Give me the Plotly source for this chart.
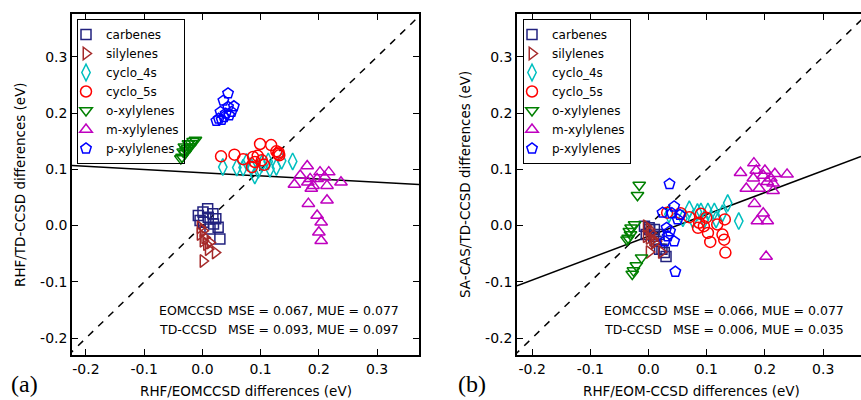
import plotly.graph_objects as go

# ---------------- data ----------------
series_names = ["carbenes", "silylenes", "cyclo_4s", "cyclo_5s", "o-xylylenes", "m-xylylenes", "p-xylylenes"]

carbenes_x = [-0.007, -0.004, 0.001, 0.002, 0.009, 0.010, 0.013, 0.018, 0.019, 0.023, 0.027, 0.030]
carbenes_td = [0.018, 0.009, 0.024, 0.006, 0.030, 0.015, -0.006, 0.021, 0.003, 0.012, -0.003, -0.024]
carbenes_cas = [-0.001, -0.016, -0.004, -0.007, -0.019, -0.007, -0.028, -0.016, -0.042, -0.042, -0.048, -0.055]

silylenes_x = [-0.004, 0.001, -0.004, 0.004, 0.001, 0.007, 0.010, 0.022, 0.001, 0.013]
silylenes_td = [-0.003, -0.009, -0.015, -0.021, -0.027, -0.033, -0.042, -0.048, -0.063, -0.030]
silylenes_cas = [-0.001, -0.007, -0.019, -0.013, -0.022, -0.025, -0.030, -0.047, -0.047, -0.028]

cyclo4_x = [0.035, 0.059, 0.070, 0.076, 0.084, 0.090, 0.096, 0.102, 0.113, 0.116, 0.127, 0.136, 0.155]
cyclo4_td = [0.104, 0.103, 0.103, 0.113, 0.104, 0.089, 0.099, 0.110, 0.114, 0.101, 0.104, 0.115, 0.114]
cyclo4_cas = [0.020, 0.013, 0.029, 0.011, 0.024, 0.025, 0.011, 0.025, 0.025, 0.011, 0.022, 0.040, 0.008]

cyclo5_x = [0.032, 0.055, 0.070, 0.085, 0.087, 0.090, 0.095, 0.099, 0.102, 0.106, 0.118, 0.127, 0.130, 0.131, 0.132]
cyclo5_td = [0.123, 0.126, 0.118, 0.104, 0.122, 0.113, 0.124, 0.145, 0.116, 0.108, 0.143, 0.132, 0.127, 0.130, 0.125]
cyclo5_cas = [0.023, 0.022, 0.015, -0.004, 0.005, 0.021, -0.001, 0.014, -0.013, -0.029, 0.002, -0.016, -0.025, 0.011, -0.048]

oxyl_x = [-0.012, -0.016, -0.019, -0.021, -0.024, -0.026, -0.028, -0.030, -0.031, -0.033, -0.035, -0.037]
oxyl_td = [0.152, 0.150, 0.146, 0.140, 0.146, 0.137, 0.134, 0.128, 0.140, 0.131, 0.122, 0.119]
oxyl_cas = [-0.057, 0.072, 0.054, -0.071, 0.002, -0.080, -0.086, -0.004, -0.016, -0.010, -0.022, -0.025]

mxyl_x = [0.158, 0.168, 0.180, 0.181, 0.182, 0.185, 0.187, 0.190, 0.197, 0.197, 0.200, 0.202, 0.204, 0.204, 0.210, 0.214, 0.214, 0.217, 0.238]
mxyl_td = [0.073, 0.089, 0.106, 0.077, 0.039, 0.083, 0.066, 0.071, 0.083, 0.018, -0.012, 0.095, 0.006, -0.027, 0.086, 0.071, 0.045, 0.095, 0.077]
mxyl_cas = [0.094, 0.066, 0.084, 0.111, 0.039, 0.098, 0.008, 0.066, 0.089, 0.022, 0.098, -0.055, 0.078, 0.008, 0.084, 0.075, 0.062, 0.092, 0.091]

pxyl_x = [0.024, 0.028, 0.031, 0.033, 0.036, 0.037, 0.040, 0.044, 0.044, 0.046, 0.050, 0.054]
pxyl_td = [0.186, 0.190, 0.202, 0.188, 0.222, 0.193, 0.199, 0.235, 0.211, 0.196, 0.202, 0.212]
pxyl_cas = [0.023, -0.028, -0.004, -0.019, 0.074, -0.010, 0.022, -0.028, 0.034, -0.082, 0.011, 0.019]

# linear fits (intercept, slope)
fit_td = [0.094, -0.057]
fit_cas = [-0.019, 0.389]

tick_vals = [-0.2, -0.1, 0.0, 0.1, 0.2, 0.3]
tick_text = ["-0.2", "-0.1", "0.0", "0.1", "0.2", "0.3"]

stats_a = ["EOMCCSD", "MSE = 0.067, MUE = 0.077", "TD-CCSD", "MSE = 0.093, MUE = 0.097"]
stats_b = ["EOMCCSD", "MSE = 0.066, MUE = 0.077", "TD-CCSD", "MSE = 0.006, MUE = 0.035"]

# ---------------- style ----------------
FONT = "DejaVu Sans"
W, H = 861, 400
xr_a = [-0.224, 0.372]
xr_b = [-0.226, 0.365]
yr = [-0.23, 0.376]
dom_xa = [72 / W, 419 / W]
dom_xb = [517 / W, 1.0]
dom_y = [1 - 355 / H, 1 - 14 / H]

styles = [
    ("square-open", "#22227f", 10),
    ("triangle-right-open", "#a52a2a", 11),
    ("diamond-tall-open", "#00bfbf", 12),
    ("circle-open", "#ff0000", 11),
    ("triangle-down-open", "#008000", 11),
    ("triangle-up-open", "#bf00bf", 11),
    ("pentagon-open", "#0000ff", 11),
]
xs = [carbenes_x, silylenes_x, cyclo4_x, cyclo5_x, oxyl_x, mxyl_x, pxyl_x]
ytd = [carbenes_td, silylenes_td, cyclo4_td, cyclo5_td, oxyl_td, mxyl_td, pxyl_td]
ycas = [carbenes_cas, silylenes_cas, cyclo4_cas, cyclo5_cas, oxyl_cas, mxyl_cas, pxyl_cas]

fig = go.Figure()

# reference lines
for xa, ya, xr, fit in [("x", "y", xr_a, fit_td), ("x2", "y2", xr_b, fit_cas)]:
    fig.add_trace(go.Scatter(x=[-0.3, 0.45], y=[-0.3, 0.45], mode="lines", xaxis=xa, yaxis=ya,
                             line=dict(color="black", width=1.5, dash="7px,7px"), showlegend=False,
                             hoverinfo="skip"))
    fig.add_trace(go.Scatter(x=xr, y=[fit[0] + fit[1] * v for v in xr], mode="lines", xaxis=xa, yaxis=ya,
                             line=dict(color="black", width=1.5), showlegend=False, hoverinfo="skip"))

for name, (sym, col, size), x, y1, y2 in zip(series_names, styles, xs, ytd, ycas):
    mk = dict(symbol=sym, size=size, color=col, line=dict(color=col, width=1.5))
    fig.add_trace(go.Scatter(x=x, y=y1, mode="markers", name=name, marker=mk, xaxis="x", yaxis="y",
                             legend="legend"))
    fig.add_trace(go.Scatter(x=x, y=y2, mode="markers", name=name, marker=mk, xaxis="x2", yaxis="y2",
                             legend="legend2"))

axis_common = dict(showline=True, linecolor="black", linewidth=1.5, ticks="inside", ticklen=6,
                   tickwidth=1.2, tickcolor="black", showgrid=False, zeroline=False,
                   automargin=False, tickvals=tick_vals, ticktext=tick_text,
                   tickfont=dict(family=FONT, size=14, color="black"))

legend_common = dict(xanchor="left", yanchor="top", bgcolor="rgba(255,255,255,0)", bordercolor="black",
                     borderwidth=1, font=dict(family=FONT, size=12, color="black"),
                     itemwidth=30, tracegroupgap=0, indentation=-12)

fig.update_layout(
    template="none",
    width=W, height=H, margin=dict(l=0, r=0, t=0, b=0, pad=0, autoexpand=False),
    paper_bgcolor="white", plot_bgcolor="white",
    font=dict(family=FONT, color="black"),
    xaxis=dict(domain=dom_xa, range=xr_a, anchor="y", mirror="ticks", **axis_common),
    yaxis=dict(domain=dom_y, range=yr, anchor="x", mirror="ticks", **axis_common),
    xaxis2=dict(domain=dom_xb, range=xr_b, anchor="y2", mirror="ticks", **axis_common),
    yaxis2=dict(domain=dom_y, range=yr, anchor="x2", mirror=False, **axis_common),
    legend=dict(x=77 / W, y=1 - 19 / H, **legend_common),
    legend2=dict(x=523 / W, y=1 - 19 / H, **legend_common),
    showlegend=True,
)

ann = []
def px_ann(text, x, y, size=13.5, xanchor="center", yanchor="middle", angle=0, family=FONT):
    ann.append(dict(text=text, x=x / W, y=1 - y / H, xref="paper", yref="paper", showarrow=False,
                    xanchor=xanchor, yanchor=yanchor, textangle=angle,
                    font=dict(family=family, size=size, color="black")))

px_ann("RHF/EOMCCSD differences (eV)", 245.5, 391)
px_ann("RHF/EOM-CCSD differences (eV)", 691.5, 391)
px_ann("RHF/TD-CCSD differences (eV)", 20, 185, angle=-90)
px_ann("SA-CAS/TD-CCSD differences (eV)", 465, 185, angle=-90)
px_ann("(a)", 9, 384, size=24, xanchor="left", family="Liberation Serif")
px_ann("(b)", 456, 384, size=24, xanchor="left", family="Liberation Serif")

for stats, x0, x1 in [(stats_a, 157, 226), (stats_b, 602, 671)]:
    px_ann(stats[0], x0, 310, size=12.5, xanchor="left")
    px_ann(stats[1], x1, 310, size=12.5, xanchor="left")
    px_ann(stats[2], x0, 329, size=12.5, xanchor="left")
    px_ann(stats[3], x1, 329, size=12.5, xanchor="left")

fig.update_layout(annotations=ann)
fig.write_html("out.html", config={"displayModeBar": False},
               post_script="document.body.style.margin='0';document.body.style.overflow='hidden';")
